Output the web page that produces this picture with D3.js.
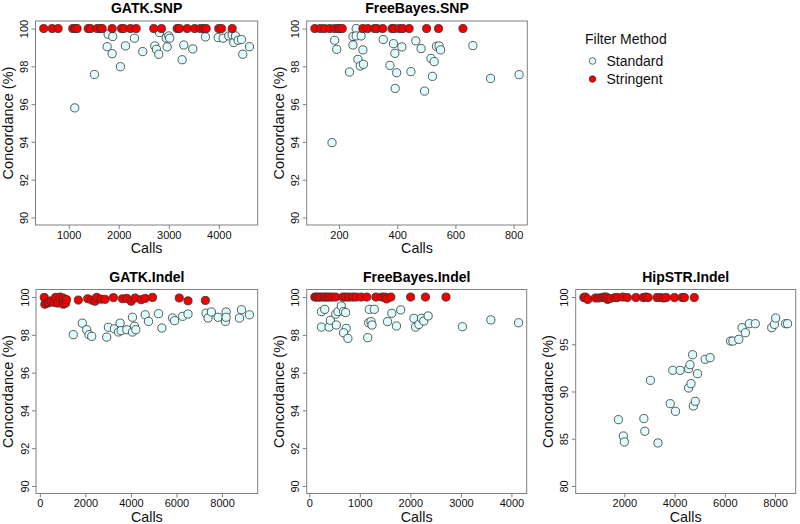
<!DOCTYPE html>
<html><head><meta charset="utf-8">
<script src="https://cdn.jsdelivr.net/npm/d3@7"></script>
<style>
html,body{margin:0;padding:0;background:#fff;}
svg{display:block;font-family:"Liberation Sans",Arial,Helvetica,sans-serif;}
</style></head>
<body>
<svg id="chart" width="800" height="524"></svg>
<script>
// ---------- DATA ----------
const panelTitles = ["GATK.SNP","FreeBayes.SNP","GATK.Indel","FreeBayes.Indel","HipSTR.Indel"];
const legendTitle = "Filter Method";
const seriesNames = ["Standard","Stringent"];

const gatkSnpStandard = [[1120,95.80],[1514,97.57],[1768,99.04],[1788,99.70],[1868,98.67],[1880,99.58],[2034,97.98],[2134,99.08],[2314,99.49],[2480,98.78],[2720,99.08],[2754,98.90],[2800,98.64],[2814,99.79],[2948,99.50],[2968,99.03],[3000,99.61],[3020,99.49],[3268,98.35],[3300,99.13],[3480,98.92],[3734,99.56],[3988,99.52],[4088,99.49],[4200,99.61],[4268,99.66],[4300,99.26],[4334,99.61],[4388,99.38],[4454,99.42],[4480,98.64],[4614,99.04]];
const gatkSnpStringent = [[500,100],[668,100],[788,100],[1080,100],[1134,100],[1168,100],[1388,100],[1434,100],[1568,100],[1634,100],[1668,100],[1868,100],[2054,100],[2100,100],[2234,100],[2348,100],[2700,100],[2854,100],[3168,100],[3214,100],[3368,100],[3520,100],[3634,100],[3700,100],[3748,100],[4000,100],[4054,100],[4268,100]];

const fbSnpStandard = [[176,93.96],[185,99.38],[192,98.90],[236,97.70],[248,99.58],[248,99.13],[259,100.0],[259,99.61],[265,98.37],[273,98.02],[276,99.61],[282,98.87],[284,98.11],[352,99.42],[375,98.05],[387,99.20],[392,98.69],[393,96.83],[398,97.66],[416,99.03],[447,97.72],[464,99.35],[482,98.94],[494,96.69],[516,98.42],[521,97.47],[527,98.25],[535,99.06],[544,99.08],[549,98.87],[660,99.10],[721,97.36],[819,97.56]];
const fbSnpStringent = [[117,100],[136,100],[150,100],[168,100],[185,100],[197,100],[202,100],[211,100],[282,100],[299,100],[322,100],[330,100],[350,100],[382,100],[390,100],[407,100],[419,100],[441,100],[501,100],[542,100],[626,100]];

const gatkIndelStandard = [[1468,98.01],[1864,98.62],[2056,98.27],[2159,98.01],[2276,97.92],[2936,97.88],[3010,98.40],[3274,98.32],[3451,98.15],[3524,98.62],[3568,98.22],[3818,98.27],[4067,98.93],[4067,98.15],[4155,98.45],[4215,98.27],[4625,99.06],[4772,98.71],[5212,99.12],[5359,98.36],[5829,98.89],[5917,98.75],[6270,98.98],[6506,99.10],[7298,99.15],[7386,98.89],[7533,99.21],[7827,98.93],[8150,98.71],[8180,99.21],[8180,98.93],[8766,98.89],[8854,99.33],[9206,99.06]];
const gatkIndelStringent = [[191,99.98],[220,99.62],[338,99.68],[410,99.72],[485,99.80],[617,99.72],[690,99.98],[778,99.68],[881,100],[1028,99.95],[1028,99.62],[1131,99.68],[1175,99.86],[1689,99.84],[2100,99.91],[2276,99.84],[2423,99.78],[2497,99.98],[2687,99.89],[2863,99.88],[3230,99.97],[3627,99.91],[3818,99.93],[4009,99.78],[4185,99.95],[4449,99.86],[4625,99.93],[4948,99.98],[6123,99.95],[6506,99.80],[7268,99.82]];

const fbIndelStandard = [[241,99.23],[306,99.35],[241,98.41],[392,98.41],[417,98.77],[535,98.52],[522,99.09],[568,99.23],[633,99.53],[678,99.23],[718,99.18],[731,98.34],[678,98.11],[764,97.81],[1188,99.35],[1286,99.35],[1176,98.64],[1221,98.70],[1241,98.52],[1156,97.85],[1548,98.70],[1633,99.14],[1725,98.47],[1809,99.32],[2070,98.87],[2103,98.41],[2168,98.55],[2221,98.87],[2266,98.73],[2352,99.00],[3030,98.43],[3593,98.79],[4141,98.64]];
const fbIndelStringent = [[110,100],[150,100],[196,100],[241,100],[300,100],[339,100],[392,100],[450,100],[522,100],[666,100],[718,100],[784,100],[862,100],[927,100],[1025,100],[1137,100],[1319,100],[1437,100],[1502,100],[1529,99.90],[1613,100],[2005,100],[2299,100],[2705,100]];

const hipStandard = [[1764,87.02],[1961,85.29],[2000,84.66],[2776,87.13],[2815,85.79],[3039,91.18],[3339,84.55],[3827,88.71],[3929,92.24],[4035,87.90],[4220,92.24],[4559,90.37],[4559,92.42],[4614,92.84],[4653,90.83],[4717,93.89],[4744,88.47],[4823,88.96],[4913,91.89],[5217,93.41],[5413,93.58],[6228,95.34],[6319,95.34],[6555,95.52],[6685,96.76],[6818,96.22],[6976,97.18],[7212,97.18],[7866,96.76],[7972,97.11],[8024,97.78],[8417,97.18],[8496,97.18]];
const hipStringent = [[388,99.95],[450,100],[545,99.75],[847,99.9],[977,99.9],[1111,99.95],[1201,100],[1280,100],[1331,99.75],[1437,99.85],[1634,99.95],[1724,99.95],[1937,100],[2118,99.95],[2461,99.95],[2748,99.95],[2854,100],[2945,99.95],[3299,99.95],[3433,99.95],[3563,99.9],[3669,99.95],[3996,99.95],[4299,99.95],[4390,99.95],[4783,99.95]];

const xTicksSnpGatk = [1000,2000,3000,4000];
const xTicksSnpFb = [200,400,600,800];
const xTicksIndelGatk = [0,2000,4000,6000,8000];
const xTicksIndelFb = [0,1000,2000,3000,4000];
const xTicksHip = [2000,4000,6000,8000];
const yTicksMain = [90,92,94,96,98,100];
const yTicksHip = [80,85,90,95,100];
const yLimMain = [90,100];
const yLimHip = [80,100];

// ---------- LAYOUT ----------
const panels = [
  {title:panelTitles[0], box:[35.5,21,257.7,225], xt:xTicksSnpGatk, yt:yTicksMain, ylim:yLimMain, std:gatkSnpStandard, str:gatkSnpStringent},
  {title:panelTitles[1], box:[306.7,21,527.3,225], xt:xTicksSnpFb, yt:yTicksMain, ylim:yLimMain, std:fbSnpStandard, str:fbSnpStringent},
  {title:panelTitles[2], box:[36,289.5,257.7,493.5], xt:xTicksIndelGatk, yt:yTicksMain, ylim:yLimMain, std:gatkIndelStandard, str:gatkIndelStringent},
  {title:panelTitles[3], box:[306.7,289.5,526.7,493.5], xt:xTicksIndelFb, yt:yTicksMain, ylim:yLimMain, std:fbIndelStandard, str:fbIndelStringent},
  {title:panelTitles[4], box:[575.7,289.5,795.7,493.5], xt:xTicksHip, yt:yTicksHip, ylim:yLimHip, std:hipStandard, str:hipStringent}
];

const COL_STD = "#E0FFFF", COL_STR = "#F00000", COL_EDGE = "#333333", COL_AXIS = "#808080";
const R = 4.1;
const svg = d3.select("#chart");

function pad(ext){ const d=(ext[1]-ext[0])*0.04; return [ext[0]-d, ext[1]+d]; }

panels.forEach(p => {
  const [x0,y0,x1,y1] = p.box;
  const all = p.std.concat(p.str);
  const x = d3.scaleLinear().domain(pad(d3.extent(all, d=>d[0]))).range([x0,x1]);
  const y = d3.scaleLinear().domain(pad(p.ylim)).range([y1,y0]);
  const g = svg.append("g");

  // x axis
  const xa = g.append("g").attr("transform",`translate(0,${y1})`)
    .call(d3.axisBottom(x).tickValues(p.xt).tickSize(4).tickPadding(2).tickFormat(d3.format("d")));
  xa.select(".domain").remove();
  xa.selectAll("line").attr("stroke",COL_AXIS);
  xa.selectAll("text").attr("font-size","11px").attr("fill","#111").attr("dy",null).attr("y",13.5);

  // y axis
  const ya = g.append("g").attr("transform",`translate(${x0},0)`)
    .call(d3.axisLeft(y).tickValues(p.yt).tickSize(4).tickFormat(d3.format("d")));
  ya.select(".domain").remove();
  ya.selectAll("line").attr("stroke",COL_AXIS);
  ya.selectAll("text").attr("font-size","11px").attr("fill","#111")
    .attr("x",null).attr("dy",null).attr("text-anchor","middle")
    .attr("transform","translate(-7.5,0) rotate(-90)");

  // box
  g.append("rect").attr("x",x0).attr("y",y0).attr("width",x1-x0).attr("height",y1-y0)
    .attr("fill","none").attr("stroke",COL_AXIS).attr("stroke-width",1);

  // title
  g.append("text").attr("x",(x0+x1)/2).attr("y",y0-8).attr("text-anchor","middle")
    .attr("font-size","14px").attr("font-weight","bold").attr("fill","#000").text(p.title);
  // axis labels
  g.append("text").attr("x",(x0+x1)/2).attr("y",y1+28).attr("text-anchor","middle")
    .attr("font-size","14.3px").attr("fill","#111").text("Calls");
  g.append("text").attr("transform",`translate(${x0-23},${(y0+y1)/2}) rotate(-90)`)
    .attr("text-anchor","middle").attr("font-size","14.5px").attr("fill","#111").text("Concordance (%)");

  // points
  g.append("g").selectAll("circle").data(p.std).join("circle")
    .attr("cx",d=>x(d[0])).attr("cy",d=>y(d[1])).attr("r",R)
    .attr("fill",COL_STD).attr("stroke",COL_EDGE).attr("stroke-width",0.8);
  g.append("g").selectAll("circle").data(p.str).join("circle")
    .attr("cx",d=>x(d[0])).attr("cy",d=>y(d[1])).attr("r",R)
    .attr("fill",COL_STR).attr("stroke",COL_EDGE).attr("stroke-width",0.8);
});

// legend
const lg = svg.append("g");
lg.append("text").attr("x",585).attr("y",43.5).attr("font-size","14px").attr("fill","#111").text(legendTitle);
const ly = d3.scalePoint().domain(seriesNames).range([61,79]);
const lcol = d3.scaleOrdinal().domain(seriesNames).range([COL_STD,COL_STR]);
seriesNames.forEach(s => {
  lg.append("circle").attr("cx",592.5).attr("cy",ly(s)).attr("r",3.3)
    .attr("fill",lcol(s)).attr("stroke",COL_EDGE).attr("stroke-width",0.7);
  lg.append("text").attr("x",606.5).attr("y",ly(s)+5).attr("font-size","14px").attr("fill","#111").text(s);
});
</script>
</body></html>
